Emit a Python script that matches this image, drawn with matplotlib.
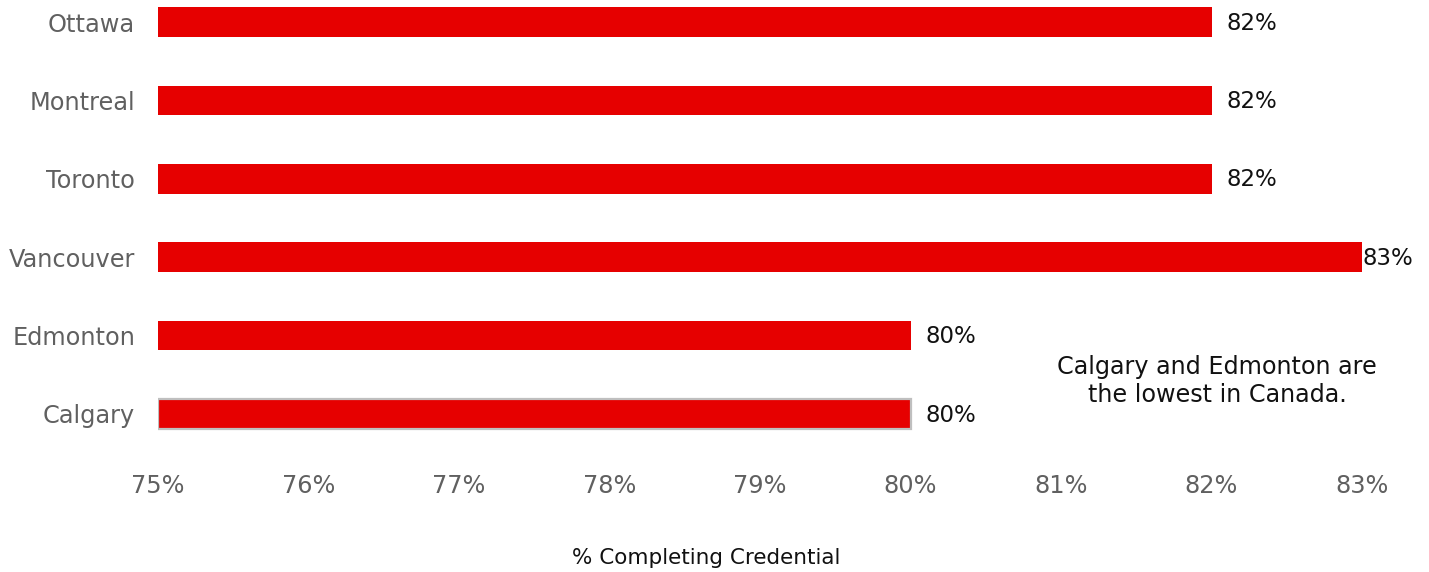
import matplotlib
matplotlib.use("Agg")
import matplotlib.pyplot as plt
from matplotlib.ticker import FuncFormatter

cities = ["Calgary", "Edmonton", "Vancouver", "Toronto", "Montreal", "Ottawa"]
values = [80, 80, 83, 82, 82, 82]
labels = ["80%", "80%", "83%", "82%", "82%", "82%"]
xticks = [75, 76, 77, 78, 79, 80, 81, 82, 83]

W, H = 1429, 572
fig = plt.figure(figsize=(W / 100, H / 100), dpi=100)
ax = fig.add_axes([158 / W, (H - 453.2) / H, (1362 - 158) / W, 453.2 / H])

red = "#E60000"
ypos = list(range(len(cities)))
bars = ax.barh(ypos, [v - 75 for v in values], left=75, height=0.38, color=red)
bars[0].set_edgecolor("#BFBFBF")
bars[0].set_linewidth(1.6)

offsets = [15, 15, 0, 15, 15, 15]
for y, v, lab, off in zip(ypos, values, labels, offsets):
    ax.annotate(lab, (v, y), xytext=(off, -1), textcoords="offset pixels",
                ha="left", va="center", fontsize=16.5, color="#111111")

ax.set_xlim(75, 83)
ax.set_ylim(-0.5, 5 + 22 / 78.4)
ax.set_xticks(xticks)
ax.xaxis.set_major_formatter(FuncFormatter(lambda x, p: f"{x:.0f}%"))
ax.set_yticks(ypos)
ax.set_yticklabels(cities)
ax.tick_params(axis="x", length=0, pad=15, labelsize=17.3, labelcolor="#606060")
ax.tick_params(axis="y", length=0, pad=16.5, labelsize=17.3, labelcolor="#606060")
for s in ax.spines.values():
    s.set_visible(False)

fig.text(706 / W, 1 - 558 / H, "% Completing Credential", ha="center", va="center",
         fontsize=15.5, color="#111111")
fig.text(1217 / W, 1 - 381 / H, "Calgary and Edmonton are\nthe lowest in Canada.",
         ha="center", va="center", fontsize=17.2, color="#111111", linespacing=1.2)

fig.savefig("out.png", dpi=100)
